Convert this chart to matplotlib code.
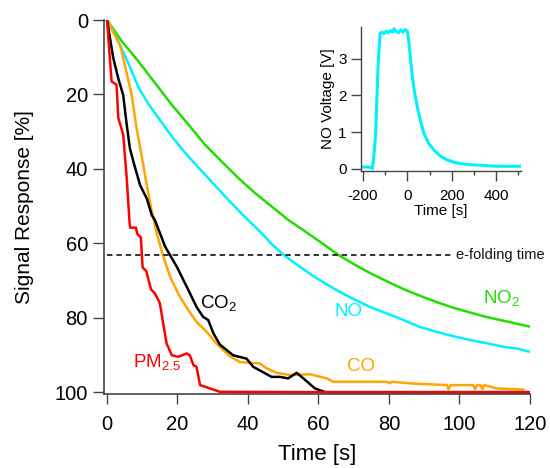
import matplotlib
matplotlib.use("Agg")
import matplotlib.pyplot as plt

plt.rcParams['font.family'] = ['Liberation Sans', 'DejaVu Sans']
plt.rcParams['mathtext.fontset'] = 'custom'
plt.rcParams['mathtext.rm'] = 'Liberation Sans'
plt.rcParams['mathtext.it'] = 'Liberation Sans:italic'
plt.rcParams['mathtext.bf'] = 'Liberation Sans:bold'
plt.rcParams['axes.unicode_minus'] = False

# ---------------- data ----------------
pm_t = [0, 1.3, 2.7, 3.2, 4.6, 5.6, 6.4, 6.6, 8.2, 8.6, 9.6, 10.1, 11.1, 12.5, 13.6,
        14.6, 15.0, 16.9, 18.4, 20.2, 22.6, 23.5, 24.5, 25.4, 26.4, 29.2, 32.0, 60, 120]
pm_y = [0, 16.5, 17.4, 26.3, 30.8, 42.6, 54.5, 55.8, 55.8, 57.5, 58.4, 66.5, 67.4, 72.4, 73.5,
        75.3, 76.2, 86.9, 90.1, 90.5, 89.6, 90.1, 92.7, 93.2, 98.1, 99.0, 99.9, 100, 100]

co2_t = [0, 1.8, 3.2, 4.6, 5.6, 6.5, 7.5, 9.4, 11.3, 12.7, 13.6, 16.5, 19.8, 23.1, 25.4,
         27.3, 28.7, 30.2, 32.0, 35.8, 39.6, 41.5, 46.7, 49.1, 51.4, 53.8, 55.7, 59.0, 60.4, 62, 120]
co2_y = [0, 10.3, 15.7, 20.2, 28.2, 34.5, 38.1, 44.4, 48.0, 52.4, 53.8, 60.9, 66.3, 72.6, 77.1,
         79.8, 80.6, 84.2, 87.2, 90.1, 91.0, 93.2, 95.9, 95.9, 96.3, 94.8, 96.3, 99.0, 99.5, 100, 100]

co_t = [0, 3.7, 5.6, 7.0, 8.4, 9.8, 11.3, 12.5, 14.1, 15.8, 17.9, 20.7, 23.1, 25.4, 28.3,
        31.1, 34.9, 37.7, 43.4, 45.3, 48.1, 51.9, 57.6, 62.3, 64.2, 79.3, 80.2, 80.8, 86.9,
        96.4, 96.9, 97.5, 103.9, 104.4, 105.0, 106.0, 106.5, 107.0, 110.5, 118.1]
co_y = [0, 6.7, 14.3, 20.2, 29.1, 36.3, 44.4, 50.5, 57.3, 63.0, 69.0, 74.4, 78.0, 81.1, 83.8,
        87.0, 90.4, 91.9, 92.3, 93.6, 94.8, 95.4, 95.2, 96.3, 97.2, 97.2, 97.6, 97.2, 97.7,
        98.1, 99.2, 98.1, 98.1, 99.2, 98.1, 98.1, 99.2, 98.1, 99.0, 99.3]

no_t = [0, 2.3, 6.0, 8.9, 11.7, 15.5, 18.4, 22.1, 25.9, 30.6, 34.4, 39.1, 43.9, 46.7, 50.5,
        54.3, 58.5, 63.7, 68.5, 74.6, 79.5, 84.1, 88.5, 93.5, 98.0, 103.0, 107.5, 112.4, 116.5, 120.0]
no_y = [0, 4.0, 11.5, 18.0, 22.5, 27.5, 31.3, 35.6, 39.6, 44.4, 48.3, 52.9, 57.3, 60.2, 63.4,
        66.0, 68.8, 71.8, 74.3, 77.1, 78.9, 80.6, 82.4, 83.8, 84.9, 86.0, 86.8, 87.8, 88.3, 89.2]

no2_t = [0, 4.2, 8.9, 13.6, 18.4, 23.1, 27.8, 32.5, 37.3, 42.0, 46.7, 51.4, 56.2, 60.9, 65.6,
         70.4, 74.6, 79.4, 84.1, 88.8, 93.5, 98.2, 103.0, 107.7, 112.4, 116.2, 120.0]
no2_y = [0, 5.7, 11.1, 16.9, 22.8, 28.1, 33.5, 38.0, 42.5, 46.5, 50.1, 53.7, 56.8, 59.9, 63.1,
         65.8, 68.0, 70.2, 72.3, 74.1, 75.8, 77.3, 78.6, 79.8, 80.8, 81.6, 82.4]

efold_level = 63.2

inset_t = [-208, -175, -160, -157, -150, -142.7, -132, -123, -115, -105, -95, -85, -75, -65,
           -60, -50, -40, -30, -20, -10, 0, 7.5, 15, 22.5, 33, 45, 60, 75, 95, 120, 150,
           180, 215, 255, 290, 330, 370, 405, 450, 510]
inset_v = [0.05, 0.05, 0.03, 0.0, 0.4, 0.96, 2.77, 3.68, 3.72, 3.68, 3.74, 3.70, 3.76, 3.72,
           3.81, 3.74, 3.70, 3.78, 3.72, 3.79, 3.74, 3.41, 2.95, 2.50, 2.05, 1.68, 1.28, 0.96,
           0.70, 0.51, 0.34, 0.24, 0.17, 0.13, 0.11, 0.10, 0.08, 0.07, 0.07, 0.07]

xticks_main = [0, 20, 40, 60, 80, 100, 120]
yticks_main = [0, 20, 40, 60, 80, 100]

# ---------------- colours ----------------
c_red = '#FF0000'
c_black = '#000000'
c_orange = '#FFA500'
c_cyan = '#00F0FF'
c_green = '#22DD00'
spine_c = '#444444'

fig = plt.figure(figsize=(5.5, 4.68), dpi=100)
ax = fig.add_axes([0.1891, 0.1581, 0.7745, 0.7991])

lw = 1.8
ax.plot(no2_t, no2_y, color=c_green, lw=lw)
ax.plot(no_t, no_y, color=c_cyan, lw=lw)
ax.plot(co_t, co_y, color=c_orange, lw=lw)
ax.plot(co2_t, co2_y, color=c_black, lw=lw)
ax.plot(pm_t, pm_y, color=c_red, lw=lw)

ax.plot([0, 97.5], [efold_level, efold_level], color='#222222', lw=1.3, ls=(0, (3, 2.2)))
ax.text(99.0, efold_level, 'e-folding time', fontsize=10.5, va='center', ha='left', color='#111111')

ax.set_xlim(-0.85, 120)
ax.set_ylim(100.5, 0)
ax.set_xticks(xticks_main)
ax.set_yticks(yticks_main)
for s in ['top', 'right']:
    ax.spines[s].set_visible(False)
for s in ['left', 'bottom']:
    ax.spines[s].set_color(spine_c)
    ax.spines[s].set_linewidth(1.2)
ax.tick_params(axis='y', direction='out', length=7.6, width=1, color=spine_c, labelsize=14.5, pad=4)
ax.tick_params(axis='x', direction='out', length=7.2, width=1, color=spine_c, labelsize=14.5, pad=8)
ax.set_xlabel('Time [s]', fontsize=16, labelpad=7)
ax.set_ylabel('Signal Response [%]', fontsize=15, labelpad=15)

fs = 13.5
ax.text(31.6, 76.0, r'CO$_\mathrm{2}$', color=c_black, fontsize=fs, ha='center', va='center')
ax.text(14.1, 91.8, r'PM$_\mathrm{2.5}$', color=c_red, fontsize=fs, ha='center', va='center')
ax.text(72.2, 93.2, 'CO', color=c_orange, fontsize=fs, ha='center', va='center')
ax.text(68.6, 78.2, 'NO', color=c_cyan, fontsize=fs, ha='center', va='center')
ax.text(112.0, 74.6, r'NO$_\mathrm{2}$', color=c_green, fontsize=fs, ha='center', va='center')

# ---------------- inset ----------------
ins = fig.add_axes([0.6558, 0.6353, 0.2909, 0.3064])
ins.plot(inset_t, inset_v, color=c_cyan, lw=2.2)
ins.set_xlim(-210, 510)
ins.set_ylim(-0.05, 3.85)
ins.set_xticks([-200, 0, 200, 400])
ins.set_xticks([-100, 100, 300, 500], minor=True)
ins.set_yticks([0, 1, 2, 3])
for s in ['top', 'right']:
    ins.spines[s].set_visible(False)
for s in ['left', 'bottom']:
    ins.spines[s].set_color(spine_c)
    ins.spines[s].set_linewidth(1.0)
ins.tick_params(axis='y', which='major', direction='out', length=7.2, width=1, color=spine_c, labelsize=11, pad=3)
ins.tick_params(axis='x', which='major', direction='out', length=7.2, width=1, color=spine_c, labelsize=11, pad=6)
ins.tick_params(which='minor', direction='out', length=3, width=1, color=spine_c)
ins.set_xlabel('Time [s]', fontsize=11, labelpad=1)
ins.set_ylabel('NO Voltage [V]', fontsize=11, labelpad=2)
ins.patch.set_alpha(0)

fig.savefig('out.png', dpi=100)
